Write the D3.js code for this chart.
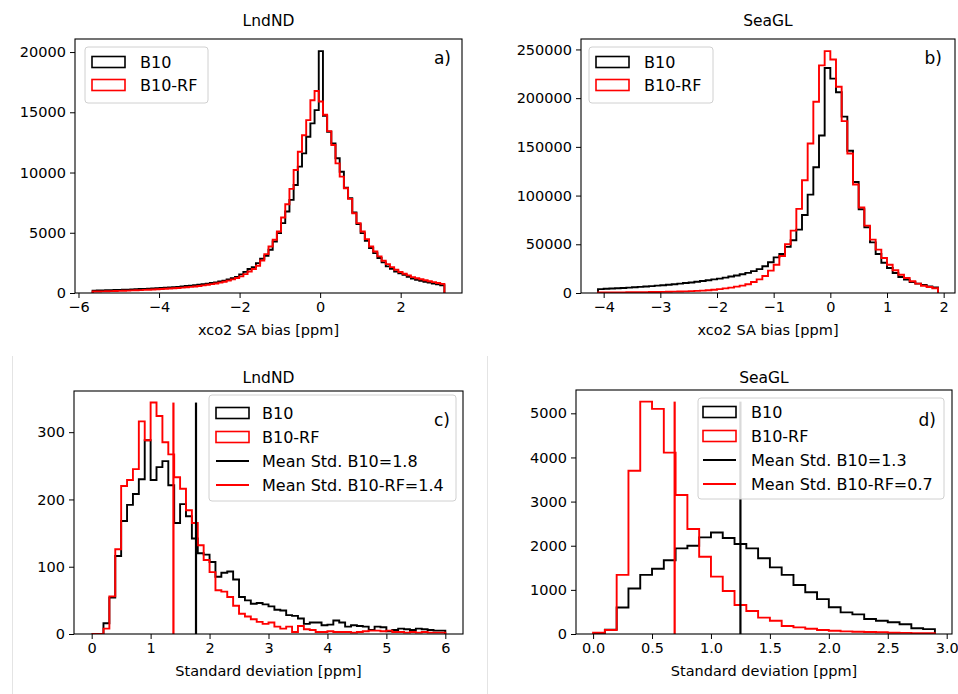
<!DOCTYPE html>
<html>
<head>
<meta charset="utf-8">
<script src="https://cdn.jsdelivr.net/npm/d3@7"></script>
<style>
  body { margin: 0; background: #fff; }
  text { font-family: "DejaVu Sans", sans-serif; fill: #000; }
</style>
</head>
<body>
<svg id="fig" width="958" height="694"></svg>
<script>
// ---- panel a: LndND, xco2 SA bias, bins of 0.104 starting at -5.65
var binStartA = -5.65, binWidthA = 0.104;
var b10A = [200, 205, 215, 225, 240, 245, 255, 270, 280, 295, 310, 330, 340, 360, 380, 395, 420, 440, 465, 485,
  510, 540, 575, 605, 640, 680, 725, 770, 825, 880, 950, 1030, 1120, 1220, 1330,
  1550, 1750, 1990, 2150, 2480, 2840, 3090, 3590, 4280, 4970, 5800, 6760, 7730, 8970, 10490, 11590, 12970, 14080, 15180,
  20080,
  14700, 13380, 12420, 11180, 10070, 8750, 7870, 6680, 5720, 4970, 4330, 3730, 3310, 2900, 2540, 2210, 2010, 1790, 1630,
  1520, 1350, 1190, 1100, 1010, 930, 860, 790, 720, 640];
var rfA = [120, 130, 135, 145, 155, 165, 180, 190, 200, 215, 230, 240, 260, 275, 290, 310, 330, 350, 370, 395,
  420, 450, 480, 510, 545, 585, 630, 680, 735, 790, 860, 940, 1030, 1130, 1240,
  1380, 1570, 1790, 1990, 2260, 2700, 3230, 3860, 4420, 5110, 6270, 7370, 8640, 10210, 11730, 13100, 14350, 16000, 16770,
  15900,
  14800, 13440, 12280, 10760, 9660, 8690, 7810, 6620, 5800, 5100, 4470, 3860, 3450, 3040, 2680, 2400, 2150, 1930, 1740,
  1600, 1460, 1320, 1230, 1140, 1060, 980, 900, 830, 760];
var xTicksA = [-6, -4, -2, 0, 2];
var yTicksA = [0, 5000, 10000, 15000, 20000];

// ---- panel b: SeaGL, xco2 SA bias, bins of 0.1 starting at -4.1
var binStartB = -4.1, binWidthB = 0.1;
var b10B = [4000, 4300, 4600, 4900, 5200, 5500, 5900, 6300, 6700, 7100, 7600, 8000, 8500, 9000, 9600, 10200, 10800, 11500, 12300, 13100,
  14000, 14800, 15800, 16900, 18000, 19300, 20700, 22500, 24500, 27500, 31500, 36600, 40000, 47300, 54100, 65000, 80000, 101000, 129000, 161700,
  231000, 220000, 206000, 181000, 146000, 114000, 86000, 67500, 52000, 40000, 31000, 25700, 20500, 16400, 13700, 11300, 9600, 8200, 6800, 5800];
var rfB = [500, 520, 560, 600, 650, 700, 760, 830, 900, 980, 1070, 1170, 1280, 1400, 1550, 1700, 1900, 2150, 2450, 2850,
  3400, 4000, 4700, 5500, 6500, 7600, 9000, 11300, 14000, 17500, 23000, 29000, 38000, 50000, 64000, 86300, 115800, 153400, 196300, 233600,
  248300, 239700, 211700, 176400, 143200, 111300, 87700, 69200, 54800, 44500, 36000, 29000, 23300, 18800, 15400, 12000, 9600, 7500, 6200, 4800];
var xTicksB = [-4, -3, -2, -1, 0, 1, 2];
var yTicksB = [0, 50000, 100000, 150000, 200000, 250000];

// ---- panel c: LndND, standard deviation, bins of 0.1 from 0
var binStartC = 0, binWidthC = 0.1;
var b10C = [0, 0, 16, 54, 116, 168, 192, 208, 230, 288, 229, 248, 257, 221, 165, 193, 175, 142, 120, 118,
  107, 85, 91, 93, 81, 55, 50, 45, 46, 44, 41, 36, 35, 28, 27, 23, 15, 17, 17, 13,
  14, 20, 17, 11, 13, 12, 11, 6, 11, 10, 4, 6, 8, 7, 6, 8, 7, 6, 5, 5];
var rfC = [0, 0, 8, 56, 126, 220, 229, 245, 316, 288, 344, 324, 285, 267, 233, 216, 184, 165, 132, 110,
  92, 65, 63, 55, 42, 30, 26, 22, 18, 15, 17, 11, 8, 11, 3, 12, 7, 6, 3, 3,
  4, 3, 3, 3, 2, 3, 4, 5, 5, 4, 5, 3, 3, 2, 3, 2, 3, 2, 2, 2];
var meanC = [1.77, 1.387];
var xTicksC = [0, 1, 2, 3, 4, 5, 6];
var yTicksC = [0, 100, 200, 300];

// ---- panel d: SeaGL, standard deviation, bins of 0.1 from 0
var binStartD = 0, binWidthD = 0.1;
var b10D = [0, 100, 600, 1030, 1340, 1480, 1670, 1940, 2000, 2190, 2300, 2175, 2040, 1940, 1715, 1510, 1340, 1110, 945, 790,
  605, 490, 445, 340, 300, 265, 220, 130, 110];
var rfD = [30, 90, 1340, 3700, 5265, 5100, 4110, 3150, 2380, 1750, 1300, 975, 657, 520, 370, 300, 180, 150, 120, 90,
  75, 60, 50, 45, 40, 30, 25, 20, 20];
var meanD = [1.25, 0.692];
var xTicksD = [0, 0.5, 1, 1.5, 2, 2.5, 3];
var yTicksD = [0, 1000, 2000, 3000, 4000, 5000];

var names = ['B10', 'B10-RF'];
var colors = ['#000000', '#ff0000'];

var svg = d3.select('#fig');

// faint edges of the pasted lower images
svg.append('line').attr('x1', 12.5).attr('x2', 12.5).attr('y1', 356).attr('y2', 694).attr('stroke', '#e4e4e4');
svg.append('line').attr('x1', 487.5).attr('x2', 487.5).attr('y1', 356).attr('y2', 694).attr('stroke', '#e4e4e4');

function panel(o) {
  var n = o.series[0].length;
  var lo = o.start, hi = o.start + o.width * n;
  var pad = (hi - lo) * 0.05;
  var x = d3.scaleLinear().domain([lo - pad, hi + pad]).range([o.l, o.r]);
  var ymax = d3.max(o.series, function (s) { return d3.max(s); });
  var y = d3.scaleLinear().domain([0, ymax * 1.05]).range([o.b, o.t]);

  var g = svg.append('g');

  // x axis
  g.append('g')
    .attr('transform', 'translate(0,' + o.b + ')')
    .call(d3.axisBottom(x).tickValues(o.xticks).tickSize(5).tickPadding(4).tickFormat(o.xfmt))
    .call(function (a) {
      a.select('.domain').remove();
      a.selectAll('text').attr('font-size', '14.5px').attr('font-family', 'DejaVu Sans');
      a.selectAll('line').attr('stroke', '#000');
    });
  // y axis
  g.append('g')
    .attr('transform', 'translate(' + o.l + ',0)')
    .call(d3.axisLeft(y).tickValues(o.yticks).tickSize(5).tickPadding(4).tickFormat(d3.format('d')))
    .call(function (a) {
      a.select('.domain').remove();
      a.selectAll('text').attr('font-size', '14.5px').attr('font-family', 'DejaVu Sans');
      a.selectAll('line').attr('stroke', '#000');
    });

  var clip = 'clip' + o.letter;
  g.append('clipPath').attr('id', clip).append('rect')
    .attr('x', o.l).attr('y', o.t).attr('width', o.r - o.l).attr('height', o.b - o.t);

  // step histograms
  var line = d3.line();
  o.series.forEach(function (s, k) {
    var pts = [[x(lo), y(0)]];
    s.forEach(function (v, i) {
      pts.push([x(lo + i * o.width), y(v)]);
      pts.push([x(lo + (i + 1) * o.width), y(v)]);
    });
    pts.push([x(hi), y(0)]);
    g.append('path').attr('d', line(pts))
      .attr('fill', 'none').attr('stroke', colors[k]).attr('stroke-width', 1.9)
      .attr('stroke-linejoin', 'miter').attr('clip-path', 'url(#' + clip + ')');
  });

  // mean lines
  if (o.means) {
    var top = d3.max(o.series[1]);
    o.means.forEach(function (m, k) {
      g.append('line').attr('x1', x(m)).attr('x2', x(m)).attr('y1', y(0)).attr('y2', y(top))
        .attr('stroke', colors[k]).attr('stroke-width', 2.2);
    });
  }

  // frame
  g.append('rect').attr('x', o.l).attr('y', o.t).attr('width', o.r - o.l).attr('height', o.b - o.t)
    .attr('fill', 'none').attr('stroke', '#000').attr('stroke-width', 1.1);

  // titles and labels
  g.append('text').attr('x', (o.l + o.r) / 2).attr('y', o.titleY).attr('text-anchor', 'middle')
    .attr('font-size', '15.5px').text(o.title);
  g.append('text').attr('x', (o.l + o.r) / 2).attr('y', o.b + 42).attr('text-anchor', 'middle')
    .attr('font-size', '14.5px').text(o.xlabel);

  // legend
  var L = o.legend;
  g.append('rect').attr('x', L.x).attr('y', L.y).attr('width', L.w).attr('height', L.h)
    .attr('rx', 3).attr('fill', '#fff').attr('fill-opacity', 0.85)
    .attr('stroke', '#d0d0d0').attr('stroke-width', 1);
  var labels = names.slice();
  if (o.meanLabels) labels = labels.concat(o.meanLabels);
  labels.forEach(function (lab, i) {
    var cy = L.rows[i];
    if (i < 2) {
      g.append('rect').attr('x', L.px).attr('y', cy - 5.5).attr('width', 33).attr('height', 11)
        .attr('fill', 'none').attr('stroke', colors[i]).attr('stroke-width', 1.6);
    } else {
      g.append('line').attr('x1', L.px).attr('x2', L.px + 33).attr('y1', cy).attr('y2', cy)
        .attr('stroke', colors[i - 2]).attr('stroke-width', 2.2);
    }
    g.append('text').attr('x', L.tx).attr('y', cy).attr('dy', '0.36em')
      .attr('font-size', '16px').text(lab);
  });

  // panel letter on top of the legend
  g.append('text').attr('x', o.letterX).attr('y', o.letterY).attr('text-anchor', 'end')
    .attr('font-size', '17px').text(o.letter + ')');
}

panel({
  l: 75, r: 462, t: 39, b: 293, start: binStartA, width: binWidthA, series: [b10A, rfA],
  xticks: xTicksA, yticks: yTicksA, xfmt: d3.format('d'), title: 'LndND', titleY: 26, xlabel: 'xco2 SA bias [ppm]',
  letter: 'a', letterX: 451, letterY: 64,
  legend: { x: 85, y: 47, w: 123, h: 56, rows: [62, 85], px: 92, tx: 140 }
});
panel({
  l: 581, r: 955, t: 39, b: 293, start: binStartB, width: binWidthB, series: [b10B, rfB],
  xticks: xTicksB, yticks: yTicksB, xfmt: d3.format('d'), title: 'SeaGL', titleY: 26, xlabel: 'xco2 SA bias [ppm]',
  letter: 'b', letterX: 942, letterY: 64,
  legend: { x: 589, y: 47, w: 124, h: 56, rows: [62, 85], px: 596, tx: 644 }
});
panel({
  l: 74, r: 463, t: 391, b: 634, start: binStartC, width: binWidthC, series: [b10C, rfC],
  xticks: xTicksC, yticks: yTicksC, xfmt: d3.format('d'), title: 'LndND', titleY: 383, xlabel: 'Standard deviation [ppm]',
  letter: 'c', letterX: 450, letterY: 426, means: meanC,
  meanLabels: ['Mean Std. B10=1.8', 'Mean Std. B10-RF=1.4'],
  legend: { x: 209, y: 395, w: 247, h: 106, rows: [413, 437, 461, 485], px: 216, tx: 262 }
});
panel({
  l: 576, r: 952, t: 390, b: 634, start: binStartD, width: binWidthD, series: [b10D, rfD],
  xticks: xTicksD, yticks: yTicksD, xfmt: d3.format('.1f'), title: 'SeaGL', titleY: 383, xlabel: 'Standard deviation [ppm]',
  letter: 'd', letterX: 936, letterY: 426, means: meanD,
  meanLabels: ['Mean Std. B10=1.3', 'Mean Std. B10-RF=0.7'],
  legend: { x: 698, y: 398, w: 246, h: 101, rows: [412, 436, 460, 484], px: 703, tx: 751 }
});
</script>
</body>
</html>
